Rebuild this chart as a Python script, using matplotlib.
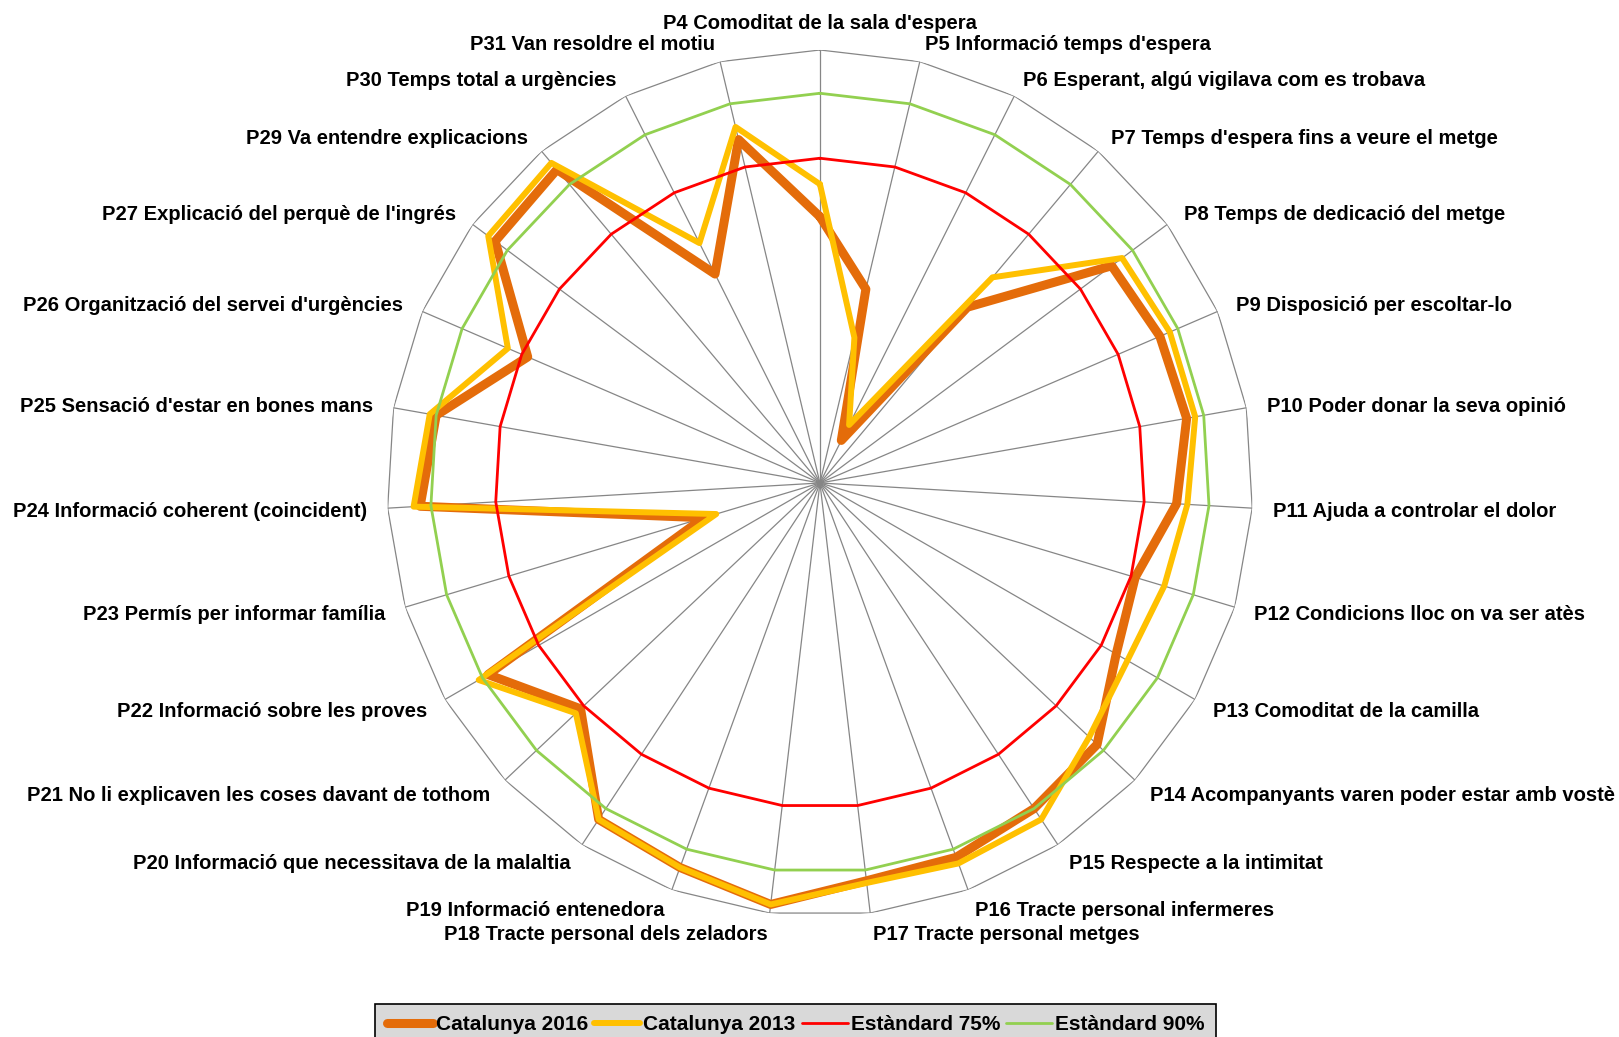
import numpy as np
import matplotlib.pyplot as plt
from matplotlib.lines import Line2D

plt.rcParams['font.family'] = ['Liberation Sans', 'DejaVu Sans']

preguntes = [
    "P4 Comoditat de la sala d'espera",
    "P5 Informació temps d'espera",
    "P6 Esperant, algú vigilava com es trobava",
    "P7 Temps d'espera fins a veure el metge",
    "P8 Temps de dedicació del metge",
    "P9 Disposició per escoltar-lo",
    "P10 Poder donar la seva opinió",
    "P11 Ajuda a controlar el dolor",
    "P12 Condicions lloc on va ser atès",
    "P13 Comoditat de la camilla",
    "P14 Acompanyants varen poder estar amb vostè",
    "P15 Respecte a la intimitat",
    "P16 Tracte personal infermeres",
    "P17 Tracte personal metges",
    "P18 Tracte personal dels zeladors",
    "P19 Informació entenedora",
    "P20 Informació que necessitava de la malaltia",
    "P21 No li explicaven les coses davant de tothom",
    "P22 Informació sobre les proves",
    "P23 Permís per informar família",
    "P24 Informació coherent (coincident)",
    "P25 Sensació d'estar en bones mans",
    "P26 Organització del servei d'urgències",
    "P27 Explicació del perquè de l'ingrés",
    "P29 Va entendre explicacions",
    "P30 Temps total a urgències",
    "P31 Van resoldre el motiu",
]

catalunya_2016 = [61.5, 46, 11, 53, 84, 85.5, 86, 82.5, 76, 79, 88, 90, 92, 92.5,
                  98, 94.5, 93, 76, 88.5, 28, 92.5, 90, 73.5, 93.5, 94.5, 54, 81.5]
catalunya_2013 = [69, 34.5, 15, 62, 87, 88, 88, 85, 83, 82, 85.5, 93, 93.5, 93,
                  98, 94.5, 93, 77.5, 91, 25, 94, 91.5, 78.5, 95.5, 96.5, 62, 84.5]
estandard_75 = [75, 75, 75, 75, 75, 75, 75, 75, 75, 75, 75, 75, 75, 75,
                75, 75, 75, 75, 75, 75, 75, 75, 75, 75, 75, 75, 75]
estandard_90 = [90, 90, 90, 90, 90, 90, 90, 90, 90, 90, 90, 90, 90, 90,
                90, 90, 90, 90, 90, 90, 90, 90, 90, 90, 90, 90, 90]

series = [
    ("Catalunya 2016", catalunya_2016, '#E46C0A', 6.5),
    ("Catalunya 2013", catalunya_2013, '#FFC000', 4.3),
    ("Estàndard 75%", estandard_75, '#FF0000', 2.0),
    ("Estàndard 90%", estandard_90, '#92D050', 2.0),
]

n = len(preguntes)
theta = np.arange(n) * 2 * np.pi / n
theta_c = np.append(theta, theta[0])

fig = plt.figure(figsize=(16.19, 10.37), dpi=100)
ax = fig.add_axes([0.2390, 0.1167, 0.5349, 0.8351], projection='polar')
ax.set_theta_zero_location('N')
ax.set_theta_direction(-1)
ax.set_ylim(0, 100)
ax.axis('off')

# radial spokes and outer polygon
for t in theta:
    ax.plot([t, t], [0, 100], color='#868686', lw=0.9, zorder=1)
ax.plot(theta_c, [100] * (n + 1), color='#868686', lw=0.9, zorder=1)

handles = []
for i, (nom, vals, col, lw) in enumerate(series):
    v = np.append(vals, vals[0])
    ax.plot(theta_c, v, color=col, lw=lw, solid_joinstyle='round',
            solid_capstyle='round', zorder=3 + i, clip_on=False)
    handles.append(Line2D([], [], color=col, lw=lw, solid_capstyle='round'))

# category labels outside the polygon
for t, txt in zip(theta, preguntes):
    phi = np.pi / 2 - t
    c, s = np.cos(phi), np.sin(phi)
    if abs(c) < 1e-6:
        ha, va = 'center', 'bottom'
    else:
        ha = 'left' if c > 0 else 'right'
        va = 'center'
    ax.annotate(txt, xy=(t, 100), xytext=(14.8 * c, 14.0 * s - 1.5),
                textcoords='offset points', ha=ha, va=va,
                fontsize=14.5, fontweight='bold', annotation_clip=False)

leg = fig.legend(handles, [s[0] for s in series], loc='upper center',
                 bbox_to_anchor=(0.4915, 0.0318), ncol=4, frameon=True,
                 fancybox=False, edgecolor='black', facecolor='#D9D9D9',
                 framealpha=1, handlelength=2.2, handletextpad=0.15,
                 columnspacing=0.3, borderpad=0.55, borderaxespad=0,
                 prop={'weight': 'bold', 'size': 15})
leg.get_frame().set_linewidth(1.2)

fig.savefig('out.png', dpi=100)
